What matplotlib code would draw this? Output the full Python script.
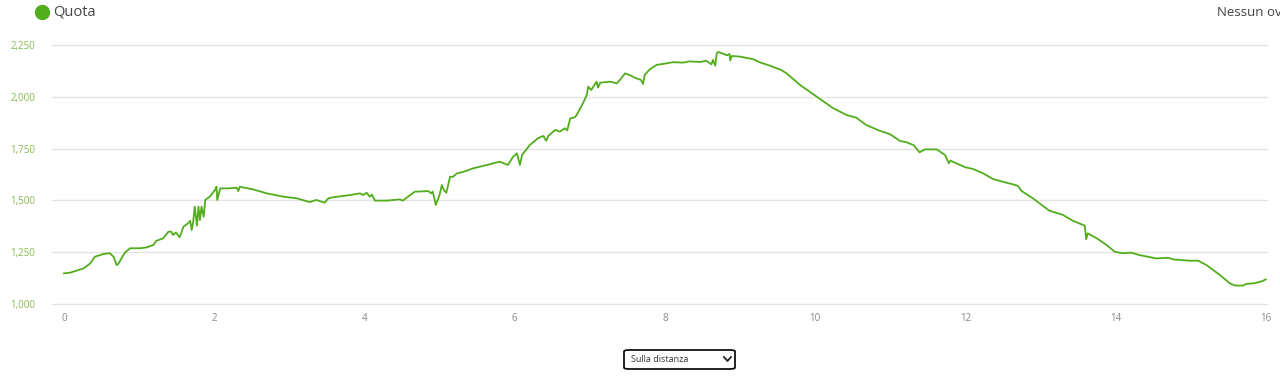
import matplotlib
matplotlib.use("Agg")
import matplotlib.pyplot as plt
from matplotlib.patches import FancyBboxPatch
from matplotlib.lines import Line2D

plt.rcParams['font.family'] = ['Open Sans', 'DejaVu Sans']

# elevation profile (km, m)
dist_km = [0.00, 0.08, 0.26, 0.35, 0.41, 0.52, 0.61, 0.66, 0.70, 0.72, 0.81, 0.88, 1.01, 1.10,
           1.19, 1.23, 1.32, 1.39, 1.43, 1.45, 1.49, 1.54, 1.59, 1.65, 1.68, 1.70, 1.72, 1.74,
           1.77, 1.79, 1.81, 1.83, 1.86, 1.88, 1.94, 2.01, 2.03, 2.04, 2.08, 2.18, 2.30, 2.32,
           2.34, 2.52, 2.70, 2.92, 3.10, 3.27, 3.36, 3.47, 3.52, 3.58, 3.81, 3.94, 3.98, 4.03,
           4.07, 4.10, 4.14, 4.30, 4.47, 4.51, 4.58, 4.67, 4.85, 4.89, 4.91, 4.95, 5.00, 5.03,
           5.06, 5.09, 5.14, 5.18, 5.23, 5.32, 5.45, 5.63, 5.80, 5.91, 5.98, 6.03, 6.07, 6.10,
           6.20, 6.31, 6.38, 6.42, 6.45, 6.54, 6.60, 6.67, 6.70, 6.74, 6.80, 6.83, 6.91, 6.96,
           6.98, 7.02, 7.09, 7.11, 7.14, 7.27, 7.36, 7.40, 7.47, 7.53, 7.62, 7.68, 7.71, 7.73,
           7.80, 7.89, 7.98, 8.11, 8.24, 8.33, 8.47, 8.55, 8.62, 8.64, 8.67, 8.69, 8.71, 8.78,
           8.83, 8.86, 8.87, 8.89, 9.00, 9.18, 9.26, 9.40, 9.55, 9.62, 9.80, 10.02, 10.24, 10.42,
           10.55, 10.68, 10.86, 11.00, 11.13, 11.22, 11.31, 11.39, 11.46, 11.62, 11.73, 11.78,
           11.80, 11.88, 12.00, 12.10, 12.24, 12.37, 12.50, 12.64, 12.70, 12.75, 12.90, 13.12,
           13.30, 13.43, 13.59, 13.61, 13.63, 13.75, 13.88, 13.99, 14.10, 14.21, 14.32, 14.54,
           14.70, 14.77, 14.99, 15.10, 15.21, 15.39, 15.52, 15.59, 15.70, 15.74, 15.85, 15.96,
           16.00]
quota_m = [1148, 1151, 1172, 1196, 1228, 1241, 1245, 1228, 1188, 1192, 1248, 1269, 1269, 1273,
           1285, 1305, 1317, 1349, 1349, 1333, 1345, 1322, 1373, 1389, 1402, 1357, 1397, 1470,
           1378, 1470, 1405, 1470, 1421, 1502, 1518, 1550, 1566, 1502, 1558, 1558, 1561, 1545,
           1566, 1553, 1534, 1518, 1510, 1492, 1502, 1489, 1510, 1515, 1526, 1534, 1526, 1537,
           1518, 1528, 1499, 1499, 1505, 1499, 1518, 1542, 1545, 1534, 1542, 1478, 1526, 1574,
           1548, 1537, 1614, 1614, 1630, 1638, 1655, 1671, 1687, 1671, 1711, 1727, 1671, 1720,
           1767, 1800, 1811, 1788, 1812, 1840, 1832, 1848, 1838, 1896, 1901, 1915, 1969, 2009,
           2049, 2033, 2073, 2045, 2068, 2073, 2065, 2081, 2113, 2105, 2089, 2082, 2062, 2105,
           2133, 2154, 2159, 2167, 2165, 2171, 2168, 2174, 2157, 2178, 2150, 2209, 2217, 2207,
           2200, 2207, 2175, 2197, 2194, 2181, 2167, 2150, 2129, 2113, 2057, 2001, 1945, 1912,
           1899, 1864, 1836, 1819, 1787, 1780, 1767, 1732, 1746, 1746, 1719, 1679, 1692, 1679,
           1660, 1652, 1630, 1603, 1590, 1577, 1570, 1545, 1510, 1450, 1430, 1402, 1378, 1312,
           1341, 1317, 1285, 1252, 1245, 1248, 1236, 1220, 1223, 1215, 1209, 1209, 1188, 1140,
           1100, 1089, 1089, 1097, 1100, 1111, 1119]

y_ticks = [1000, 1250, 1500, 1750, 2000, 2250]
x_ticks = [0, 2, 4, 6, 8, 10, 12, 14, 16]

line_green = '#52ad1c'
label_green = '#86bb4d'

fig = plt.figure(figsize=(12.8, 3.77), dpi=100)
# 1000 m sits at y=304 px, 2250 m at y=45 px; leave a few px so edge gridlines show
px_per_m = 259 / 1250
pad_m = 10
top_px = 45 - pad_m * px_per_m
bot_px = 304 + pad_m * px_per_m
ax = fig.add_axes([52 / 1280, 1 - bot_px / 377, 1216 / 1280, (bot_px - top_px) / 377])

ax.plot(dist_km, quota_m, color=line_green, lw=1.3, clip_on=False, zorder=3)

ax.set_xlim(-0.16, 16.03)
ax.set_ylim(1000 - pad_m, 2250 + pad_m)
ax.set_yticks(y_ticks)
ax.set_yticklabels([f"{v:,}" for v in y_ticks])
ax.set_xticks(x_ticks)
ax.set_xticklabels([str(v) for v in x_ticks])
ax.grid(axis='y', color='#e3e3e3', lw=1)
ax.set_axisbelow(True)
for s in ax.spines.values():
    s.set_visible(False)
ax.tick_params(axis='y', length=0, pad=12, labelsize=7, labelcolor=label_green)
ax.tick_params(axis='x', length=0, pad=5, labelsize=7, labelcolor='#888888')

# legend at top left
fig.lines.append(Line2D([42 / 1280], [1 - 12 / 377], marker='o', ms=10, color=line_green,
                        transform=fig.transFigure))
fig.text(53 / 1280, 1 - 12 / 377, "Quota", fontsize=10.5, color='#444444', va='center', ha='left')
fig.text(1217 / 1280, 1 - 12 / 377, "Nessun ov", fontsize=9.5, color='#444444', va='center', ha='left')

# dropdown below the chart
box = FancyBboxPatch((624 / 1280, 1 - 369 / 377), 111 / 1280, 19 / 377,
                     boxstyle="round,pad=0,rounding_size=0.004", transform=fig.transFigure,
                     facecolor='white', edgecolor='#111111', lw=1.3)
fig.patches.append(box)
fig.text(631 / 1280, 1 - 359 / 377, "Sulla distanza", fontsize=6.5, color='#333333',
         va='center', ha='left')
fig.lines.append(Line2D([724 / 1280, 727.5 / 1280, 731 / 1280],
                        [1 - 357 / 377, 1 - 361 / 377, 1 - 357 / 377],
                        color='#222222', lw=1.3, transform=fig.transFigure))

fig.savefig("out.png", dpi=100)
